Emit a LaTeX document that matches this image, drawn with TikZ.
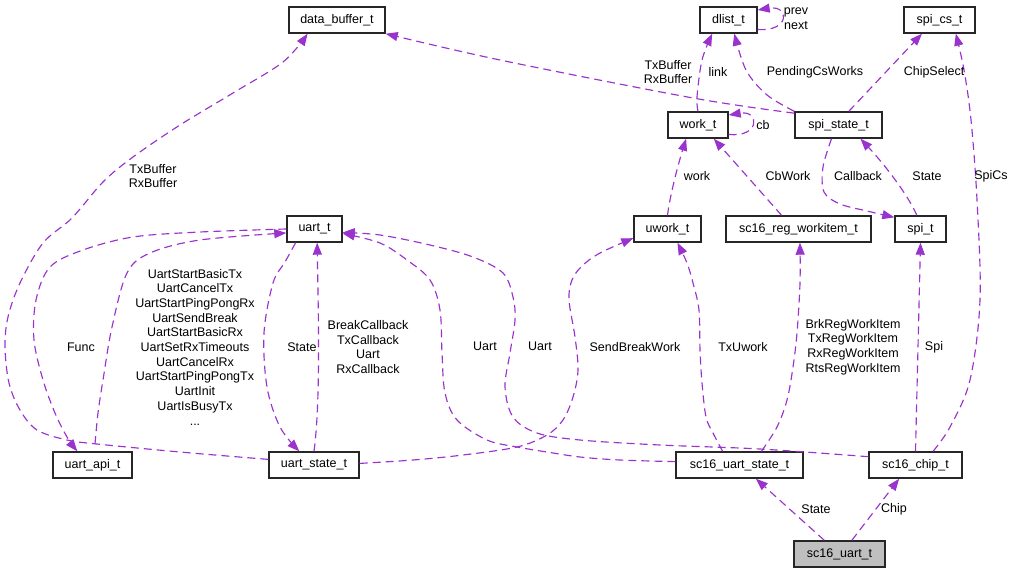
\documentclass[tikz,border=0pt]{standalone}
\usepackage{fontspec}
\setmainfont{Liberation Sans}
\usetikzlibrary{arrows.meta}
\definecolor{edgecol}{HTML}{9A32CD}
\definecolor{mainfill}{HTML}{BFBFBF}
\begin{document}
\begin{tikzpicture}[x=1pt,y=-1pt,
  box/.style={draw=black!85, line width=1.4pt, fill=white, minimum height=26pt, inner sep=0pt,
    font=\fontsize{12.5}{14.7}\selectfont},
  edge/.style={draw=edgecol, line width=1.15pt, dash pattern=on 8pt off 5pt,
    -{Triangle[length=12pt,width=9pt]}},
  lbl/.style={font=\fontsize{12.5}{14.7}\selectfont, align=center, inner sep=0pt}]
\useasboundingbox (0,0) rectangle (1016,573);

% nodes
\node[box, minimum width=96pt]  (databuf)   at (337,20)    {data\_buffer\_t};
\node[box, minimum width=57pt]  (dlist)     at (728.5,20)  {dlist\_t};
\node[box, minimum width=71pt]  (spics)     at (939.5,20)  {spi\_cs\_t};
\node[box, minimum width=60pt]  (work)      at (698,125)   {work\_t};
\node[box, minimum width=87pt]  (spistate)  at (838.5,125) {spi\_state\_t};
\node[box, minimum width=55pt]  (uart)      at (314.5,229) {uart\_t};
\node[box, minimum width=67pt]  (uwork)     at (667.5,229) {uwork\_t};
\node[box, minimum width=145pt] (sc16reg)   at (798.5,229) {sc16\_reg\_workitem\_t};
\node[box, minimum width=51pt]  (spi)       at (920.5,229) {spi\_t};
\node[box, minimum width=79pt]  (uartapi)   at (92.5,465)  {uart\_api\_t};
\node[box, minimum width=90pt]  (uartstate) at (314,465)   {uart\_state\_t};
\node[box, minimum width=127pt] (sc16us)    at (739.5,465) {sc16\_uart\_state\_t};
\node[box, minimum width=93pt]  (sc16chip)  at (915.5,465) {sc16\_chip\_t};
\node[box, minimum width=91pt, fill=mainfill] (sc16uart) at (839.5,554) {sc16\_uart\_t};
\coordinate (ia) at (95,444);

% edges
\draw[edge] plot[smooth, tension=0.55] coordinates {(uartstate.173.7) (180,452) (97,444) (67,440) (37,430) (20,410) (9,383) (5,347) (8,317) (20,283) (43,243) (72,218) (103,182) (133,157) (180,125) (233,93) (283,62) (databuf.205.7)};
\draw[edge] plot[smooth, tension=0.55] coordinates {(spistate.165.8) (693,98) (500,60) (databuf.south east)};
\draw[edge] (dlist.342.5) .. controls (790,32) and (790,5) .. (dlist.19.3);
\draw[edge] plot[smooth, tension=0.55] coordinates {(work.north) (697,97) (702,60) (dlist.220)};
\draw[edge] plot[smooth, tension=0.55] coordinates {(spistate.north west) (767,95) (746,70) (dlist.293)};
\draw[edge] (spistate.53.8) -- (spics.218.2);
\draw[edge] (work.343.3) .. controls (760,138) and (760,110) .. (work.18.4);
\draw[edge] plot[smooth, tension=0.55] coordinates {(sc16chip.38.2) (950,427) (970,380) (980,300) (977,200) (971,120) (964,70) (spics.320)};
\draw[edge] (uwork.north) .. controls (670,195) and (678,165) .. (work.229.8);
\draw[edge] (sc16reg.141.8) -- (work.319.1);
\draw[edge] (spi.105) .. controls (908,195) and (885,165) .. (spistate.328.8);
\draw[edge] plot[smooth, tension=0.55] coordinates {(spistate.243.4) (823,167) (824,192) (840,204) (867,211) (spi.156.7)};
\draw[edge] plot[smooth, tension=0.55] coordinates {(uart.west) (200,232) (133,237) (83,250) (50,267) (36,300) (34,340) (43,380) (55,413) (67,437) (uartapi.138.1)};
\draw[edge] plot[smooth, tension=0.55] coordinates {(ia) (98,413) (103,380) (112,327) (127,273) (150,253) (200,240) (uart.188.3)};
\draw[edge] plot[smooth, tension=0.55] coordinates {(uart.216.6) (285,262) (273,283) (264,333) (267,387) (280,427) (uartstate.137.1)};
\draw[edge] (uartstate.north) .. controls (321,400) and (318,300) .. (uart.281);
\draw[edge] plot[smooth, tension=0.55] coordinates {(sc16us.177.3) (620,460) (580,457) (547,452) (517,447) (487,440) (457,420) (445,393) (442,353) (440,310) (430,280) (407,260) (380,243) (uart.351.7)};
\draw[edge] plot[smooth, tension=0.55] coordinates {(sc16chip.170.2) (760,449) (660,445) (580,440) (537,433) (513,417) (505,387) (510,353) (515,320) (513,297) (503,273) (473,257) (430,245) (380,235) (uart.353.8)};
\draw[edge] plot[smooth, tension=0.55] coordinates {(uartstate.2.5) (413,460) (463,455) (517,447) (547,435) (563,420) (573,397) (578,370) (575,337) (569,300) (572,280) (582,266) (600,253) (uwork.195)};
\draw[edge] plot[smooth, tension=0.55] coordinates {(sc16us.141.8) (713,433) (706,417) (702,383) (700,350) (699,310) (693,283) (687,263) (uwork.306.2)};
\draw[edge] plot[smooth, tension=0.55] coordinates {(sc16us.32.4) (777,427) (787,400) (793,367) (797,333) (800,283) (sc16reg.276.6)};
\draw[edge] (sc16chip.north) -- (spi.south);
\draw[edge] (sc16uart.138.1) -- (sc16us.320);
\draw[edge] (sc16uart.48.5) -- (sc16chip.220);

% labels
\node[lbl] (l1)  at (153,176) {TxBuffer\\RxBuffer};
\node[lbl] (l2)  at (668,72)  {TxBuffer\\RxBuffer};
\node[lbl] (l3)  at (796,19)  {prev\\next};
\node[lbl] (l4)  at (718,72)  {link};
\node[lbl] (l5)  at (815,72)  {PendingCsWorks};
\node[lbl] (l6)  at (934,72)  {ChipSelect};
\node[lbl] (l7)  at (763,125) {cb};
\node[lbl] (l8)  at (991,176) {SpiCs};
\node[lbl] (l9)  at (697,176) {work};
\node[lbl] (l10) at (788,176) {CbWork};
\node[lbl] (l11) at (858,176) {Callback};
\node[lbl] (l12) at (927,176) {State};
\node[lbl] (l13) at (81,347)  {Func};
\node[lbl] (l14) at (195,347) {UartStartBasicTx\\UartCancelTx\\UartStartPingPongRx\\UartSendBreak\\UartStartBasicRx\\UartSetRxTimeouts\\UartCancelRx\\UartStartPingPongTx\\UartInit\\UartIsBusyTx\\...};
\node[lbl] (l15) at (302,347) {State};
\node[lbl] (l16) at (368,347) {BreakCallback\\TxCallback\\Uart\\RxCallback};
\node[lbl] (l17) at (485,346) {Uart};
\node[lbl] (l18) at (540,346) {Uart};
\node[lbl] (l19) at (635,347) {SendBreakWork};
\node[lbl] (l20) at (743,347) {TxUwork};
\node[lbl] (l21) at (853,347) {BrkRegWorkItem\\TxRegWorkItem\\RxRegWorkItem\\RtsRegWorkItem};
\node[lbl] (l22) at (934,347) {Spi};
\node[lbl] (l23) at (816,509) {State};
\node[lbl] (l24) at (894,509) {Chip};
\end{tikzpicture}
\end{document}
